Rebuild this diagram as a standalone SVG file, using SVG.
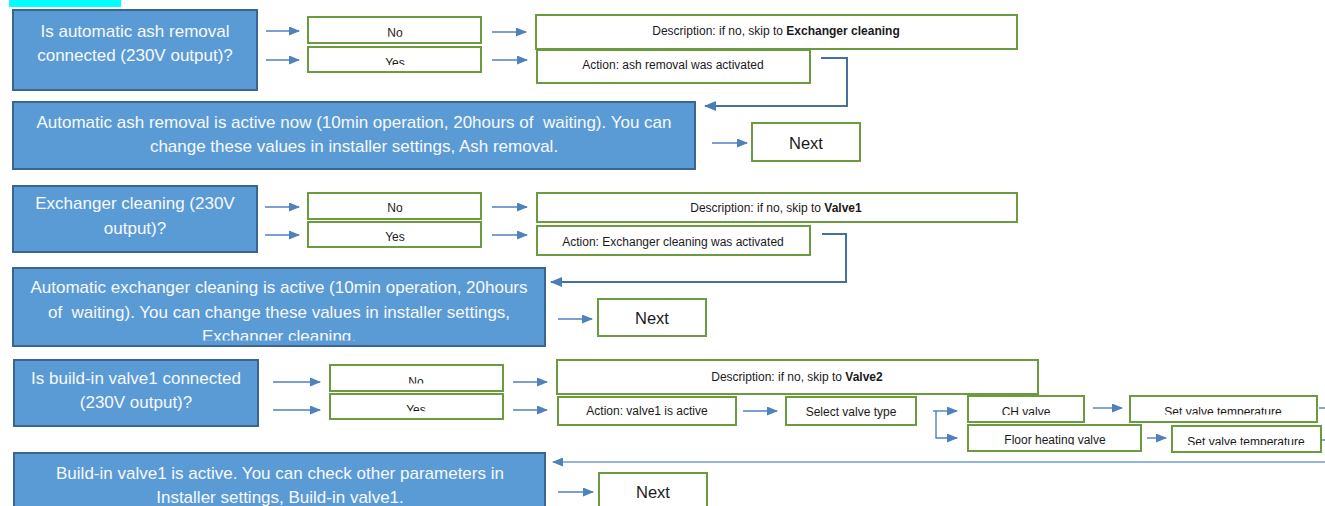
<svg xmlns="http://www.w3.org/2000/svg" width="1325" height="506" viewBox="0 0 1325 506">
<style>
.bb{fill:#5B9BD5;stroke:#3A6591;stroke-width:2}
.gb{fill:#FFFFFF;stroke:#6A9B3E;stroke-width:2}
.bt{font-family:"Liberation Sans",Arial,sans-serif;font-size:17px;fill:#F7F9FC;text-anchor:middle;white-space:pre}
.st{font-family:"Liberation Sans",Arial,sans-serif;font-size:12px;fill:#1A1A1A;text-anchor:middle}
.nt{font-family:"Liberation Sans",Arial,sans-serif;font-size:16.5px;fill:#1A1A1A;text-anchor:middle}
.ar{fill:none;stroke:#4F81BD;stroke-width:1.4}
.rc{fill:none;stroke:#41719C;stroke-width:2}
.rl{fill:none;stroke:#6C9BD0;stroke-width:1.3}
</style>
<defs>
<marker id="ah" markerUnits="userSpaceOnUse" markerWidth="11" markerHeight="9" refX="10" refY="4.5" orient="auto"><path d="M0,0 L11,4.5 L0,9 z" fill="#4F81BD"/></marker>
<marker id="ahd" markerUnits="userSpaceOnUse" markerWidth="12" markerHeight="10" refX="11" refY="5" orient="auto"><path d="M0,0 L12,5 L0,10 z" fill="#4A7DB5"/></marker>
<clipPath id="cNo1"><rect x="300" y="10" width="190" height="26.8"/></clipPath>
<clipPath id="cYes1"><rect x="300" y="45" width="190" height="20"/></clipPath>
<clipPath id="cEx"><rect x="0" y="260" width="560" height="80.5"/></clipPath>
<clipPath id="cNo3"><rect x="320" y="360" width="190" height="23.6"/></clipPath>
<clipPath id="cYes3"><rect x="320" y="392" width="190" height="19.2"/></clipPath>
<clipPath id="cCH"><rect x="960" y="395" width="130" height="20"/></clipPath>
<clipPath id="cSet1"><rect x="1125" y="395" width="200" height="19.6"/></clipPath>
<clipPath id="cFl"><rect x="960" y="424" width="190" height="21"/></clipPath>
<clipPath id="cSet2"><rect x="1165" y="424" width="160" height="21"/></clipPath>
</defs>
<rect x="0" y="0" width="1325" height="506" fill="#FFFFFF"/>
<rect x="9" y="0" width="112" height="7" fill="#00FFFF"/>

<g id="connectors">
<path class="ar" marker-end="url(#ah)" d="M266,31 H299"/>
<path class="ar" marker-end="url(#ah)" d="M266,60 H299"/>
<path class="ar" marker-end="url(#ah)" d="M492,32 H526"/>
<path class="ar" marker-end="url(#ah)" d="M492,60 H527"/>
<path class="rc" marker-end="url(#ahd)" d="M821,58 H847 V106 H705"/>
<path class="ar" marker-end="url(#ah)" d="M712,143 H747"/>
<path class="ar" marker-end="url(#ah)" d="M265,207 H299"/>
<path class="ar" marker-end="url(#ah)" d="M265,235 H299"/>
<path class="ar" marker-end="url(#ah)" d="M492,207 H527"/>
<path class="ar" marker-end="url(#ah)" d="M492,235 H527"/>
<path class="rc" marker-end="url(#ahd)" d="M822,234 H846 V282 H551"/>
<path class="ar" marker-end="url(#ah)" d="M558,319 H592"/>
<path class="ar" marker-end="url(#ah)" d="M273,382 H320"/>
<path class="ar" marker-end="url(#ah)" d="M273,410 H320"/>
<path class="ar" marker-end="url(#ah)" d="M513,382 H547"/>
<path class="ar" marker-end="url(#ah)" d="M513,410 H547"/>
<path class="ar" marker-end="url(#ah)" d="M743,411 H777"/>
<path class="ar" marker-end="url(#ah)" d="M933,411 H957"/>
<path class="ar" marker-end="url(#ah)" d="M936,411 V438 H957"/>
<path class="ar" marker-end="url(#ah)" d="M1093,408 H1122"/>
<path class="ar" marker-end="url(#ah)" d="M1147,438 H1166"/>
<path class="ar" d="M1319,408 H1325"/>
<path class="ar" d="M1322,440 H1325"/>
<path class="rl" marker-end="url(#ah)" d="M1325,462 H553"/>
<path class="ar" marker-end="url(#ah)" d="M558,492 H593"/>
</g>

<g id="q-ash"><rect class="bb" x="13" y="10" width="244" height="80"/><text class="bt" x="135" y="37">Is automatic ash removal</text><text class="bt" x="135" y="61">connected (230V output)?</text></g>
<g id="no1"><rect class="gb" x="308" y="17" width="173" height="26"/><text class="st" x="395" y="37" clip-path="url(#cNo1)">No</text></g>
<g id="yes1"><rect class="gb" x="308" y="47" width="173" height="25"/><text class="st" x="395" y="67" clip-path="url(#cYes1)">Yes</text></g>
<g id="desc1"><rect class="gb" x="536" y="15" width="481" height="34"/><text class="st" x="776" y="35">Description: if no, skip to <tspan font-weight="bold">Exchanger cleaning</tspan></text></g>
<g id="act1"><rect class="gb" x="537" y="50" width="273" height="33"/><text class="st" x="673" y="69">Action: ash removal was activated</text></g>
<g id="info-ash"><rect class="bb" x="13" y="102" width="682" height="67"/><text class="bt" x="354" y="128" xml:space="preserve">Automatic ash removal is active now (10min operation, 20hours of  waiting). You can</text><text class="bt" x="354" y="152">change these values in installer settings, Ash removal.</text></g>
<g id="next1"><rect class="gb" x="752" y="123" width="108" height="38"/><text class="nt" x="806" y="149">Next</text></g>

<g id="q-exch"><rect class="bb" x="13" y="186" width="244" height="66"/><text class="bt" x="135" y="209">Exchanger cleaning (230V</text><text class="bt" x="135" y="234">output)?</text></g>
<g id="no2"><rect class="gb" x="308" y="193" width="173" height="26"/><text class="st" x="395" y="212">No</text></g>
<g id="yes2"><rect class="gb" x="308" y="222" width="173" height="25"/><text class="st" x="395" y="241">Yes</text></g>
<g id="desc2"><rect class="gb" x="537" y="193" width="480" height="29"/><text class="st" x="776" y="212">Description: if no, skip to <tspan font-weight="bold">Valve1</tspan></text></g>
<g id="act2"><rect class="gb" x="537" y="226" width="273" height="29"/><text class="st" x="673" y="246">Action: Exchanger cleaning was activated</text></g>
<g id="info-exch"><rect class="bb" x="13" y="268" width="532" height="78"/><text class="bt" x="279" y="293">Automatic exchanger cleaning is active (10min operation, 20hours</text><text class="bt" x="279" y="318" xml:space="preserve">of  waiting). You can change these values in installer settings,</text><text class="bt" x="279" y="342" clip-path="url(#cEx)">Exchanger cleaning.</text></g>
<g id="next2"><rect class="gb" x="598" y="299" width="108" height="37"/><text class="nt" x="652" y="324">Next</text></g>

<g id="q-valve1"><rect class="bb" x="14" y="360" width="244" height="66"/><text class="bt" x="136" y="384">Is build-in valve1 connected</text><text class="bt" x="136" y="408">(230V output)?</text></g>
<g id="no3"><rect class="gb" x="330" y="365" width="173" height="26"/><text class="st" x="416" y="386" clip-path="url(#cNo3)">No</text></g>
<g id="yes3"><rect class="gb" x="330" y="394" width="173" height="25"/><text class="st" x="416" y="414" clip-path="url(#cYes3)">Yes</text></g>
<g id="desc3"><rect class="gb" x="557" y="360" width="481" height="34"/><text class="st" x="797" y="381">Description: if no, skip to <tspan font-weight="bold">Valve2</tspan></text></g>
<g id="act3"><rect class="gb" x="558" y="397" width="178" height="28"/><text class="st" x="647" y="415">Action: valve1 is active</text></g>
<g id="select"><rect class="gb" x="786" y="397" width="130" height="28"/><text class="st" x="851" y="416">Select valve type</text></g>
<g id="ch"><rect class="gb" x="968" y="396" width="116" height="26"/><text class="st" x="1026" y="416" clip-path="url(#cCH)">CH valve</text></g>
<g id="floor"><rect class="gb" x="968" y="425" width="173" height="26"/><text class="st" x="1055" y="444" clip-path="url(#cFl)">Floor heating valve</text></g>
<g id="set1"><rect class="gb" x="1130" y="396" width="187" height="26"/><text class="st" x="1223" y="416" clip-path="url(#cSet1)">Set valve temperature</text></g>
<g id="set2"><rect class="gb" x="1172" y="426" width="149" height="26"/><text class="st" x="1246" y="446" clip-path="url(#cSet2)">Set valve temperature</text></g>
<g id="info-valve1"><rect class="bb" x="14" y="453" width="531" height="70"/><text class="bt" x="280" y="479">Build-in valve1 is active. You can check other parameters in</text><text class="bt" x="280" y="503">Installer settings, Build-in valve1.</text></g>
<g id="next3"><rect class="gb" x="599" y="473" width="108" height="40"/><text class="nt" x="653" y="498">Next</text></g>
</svg>
